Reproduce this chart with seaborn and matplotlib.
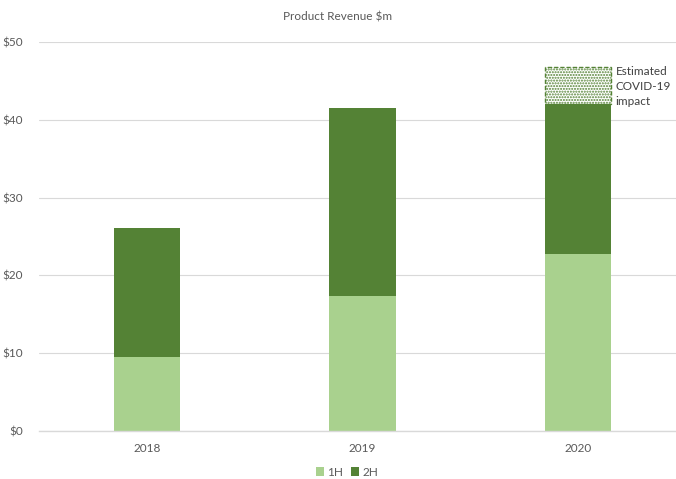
import matplotlib
matplotlib.use("Agg")
import matplotlib.pyplot as plt
import seaborn as sns
import pandas as pd
from matplotlib.patches import Patch

years = ["2018", "2019", "2020"]
h1 = [9.5, 17.35, 22.75]
h2 = [16.6, 24.15, 19.3]
covid_year = ["2020"]
covid_impact = [4.8]
yticks = [0, 10, 20, 30, 40, 50]
ytick_labels = ["\\$0", "\\$10", "\\$20", "\\$30", "\\$40", "\\$50"]

LIGHT = "#A9D18E"
DARK = "#548235"
GRID = "#D9D9D9"
TXT = "#595959"

sns.set_theme(style="white")
plt.rcParams["font.family"] = ["Lato", "DejaVu Sans"]
plt.rcParams["hatch.linewidth"] = 1.0

df = pd.DataFrame({"year": years, "h1": h1, "h2": h2})
df["total"] = df["h1"] + df["h2"]
cov = pd.DataFrame({"year": covid_year, "impact": covid_impact})
cov = cov.merge(df[["year", "total"]], on="year")

fig = plt.figure(figsize=(6.76, 4.79), dpi=100)
ax = fig.add_axes([39.3 / 676, 1 - 431 / 479, (676 - 39.3) / 676, (431 - 42) / 479])

W = 0.31
sns.barplot(data=df, x="year", y="total", order=years, ax=ax, width=W,
            color=DARK, saturation=1, linewidth=0, zorder=3)
sns.barplot(data=df, x="year", y="h1", order=years, ax=ax, width=W,
            color=LIGHT, saturation=1, linewidth=0, zorder=4)
n_before = len(ax.patches)
# Covid hatched bar stacked on top of the 2020 total
sns.barplot(data=cov, x="year", y="impact", order=years, ax=ax, width=W,
            color="white", saturation=1, edgecolor=DARK, linewidth=1.0,
            linestyle=(0, (3, 1.5)), hatch="......", zorder=2)
for p, base in zip(ax.patches[n_before:], cov["total"]):
    p.set_y(base)

ax.set_ylim(0, 50)
ax.set_xlim(-0.5, 2.5 - 9.7 / 215.5)
ax.set_yticks(yticks)
ax.set_yticklabels(ytick_labels)
ax.yaxis.grid(True, color=GRID, linewidth=0.8, zorder=0)
ax.set_axisbelow(True)
for s in ["top", "right", "left"]:
    ax.spines[s].set_visible(False)
ax.spines["bottom"].set_color(GRID)
ax.spines["bottom"].set_linewidth(1.0)
ax.spines["bottom"].set_zorder(5)
ax.tick_params(axis="y", length=0, labelsize=8.5, labelcolor=TXT, pad=12)
ax.tick_params(axis="x", length=0, labelsize=8.5, labelcolor=TXT, pad=9)
ax.set_xticks([0.5, 1.5], minor=True)
ax.tick_params(axis="x", which="minor", length=4, color=GRID, width=1)
ax.set_xlabel("")
ax.set_ylabel("")

ax.text(2 + W / 2 + 0.02, 46.9, "Estimated\nCOVID-19\nimpact", fontsize=8.5,
        color="#404040", va="top", ha="left", linespacing=1.45)

fig.text(0.5, 1 - 17 / 479, "Product Revenue \\$m", ha="center", va="center",
         fontsize=8.5, color=TXT)

handles = [Patch(facecolor=LIGHT, edgecolor="none", label="1H"),
           Patch(facecolor=DARK, edgecolor="none", label="2H")]
fig.legend(handles=handles, loc="center", bbox_to_anchor=(347 / 676, 1 - 472 / 479),
           ncol=2, frameon=False, fontsize=8.5, labelcolor=TXT,
           handlelength=0.7, handleheight=0.7, handletextpad=0.3,
           columnspacing=0.6)

fig.savefig("out.png", dpi=100)
